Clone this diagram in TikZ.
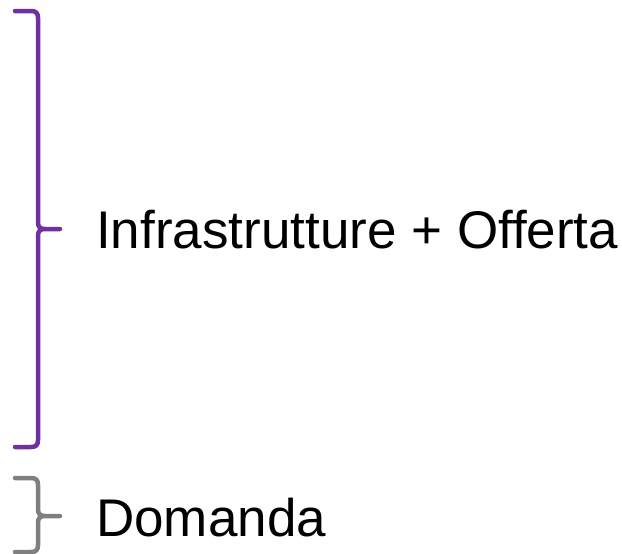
\documentclass[tikz,border=0pt]{standalone}
\usepackage{fontspec}
\setmainfont{Liberation Sans}
\definecolor{bracepurple}{HTML}{7030A0}
\definecolor{bracegrey}{HTML}{7F7F7F}
\begin{document}
\begin{tikzpicture}[x=1pt,y=-1pt,
  bracestyle/.style={line width=4.5pt,line cap=round,line join=round},
  lbl/.style={anchor=base west,inner sep=0pt,font=\fontsize{53}{60}\selectfont}]
\useasboundingbox (0,0) rectangle (622,554);
% purple brace
\coordinate (ptop) at (15,11);
\coordinate (ptip) at (60,229);
\coordinate (pbot) at (15,447);
\draw[bracestyle,draw=bracepurple]
  (ptop) -- (31,11) .. controls (36,11) and (38,13) .. (38,18)
  -- (38,222) .. controls (38,227) and (40,229) .. (45,229) -- (ptip)
  (45,229) .. controls (40,229) and (38,231) .. (38,236)
  -- (38,440) .. controls (38,445) and (36,447) .. (31,447) -- (pbot);
\node[lbl] (infra) at (96,248) {Infrastrutture + Offerta};
% grey brace
\coordinate (gtop) at (15,478);
\coordinate (gtip) at (60,516);
\coordinate (gbot) at (15,552);
\draw[bracestyle,draw=bracegrey]
  (gtop) -- (31,478) .. controls (36,478) and (38,480) .. (38,485)
  -- (38,509) .. controls (38,514) and (40,516) .. (45,516) -- (gtip)
  (45,516) .. controls (40,516) and (38,518) .. (38,523)
  -- (38,545) .. controls (38,550) and (36,552) .. (31,552) -- (gbot);
\node[lbl] (dom) at (96,536) {Domanda};
\end{tikzpicture}
\end{document}
